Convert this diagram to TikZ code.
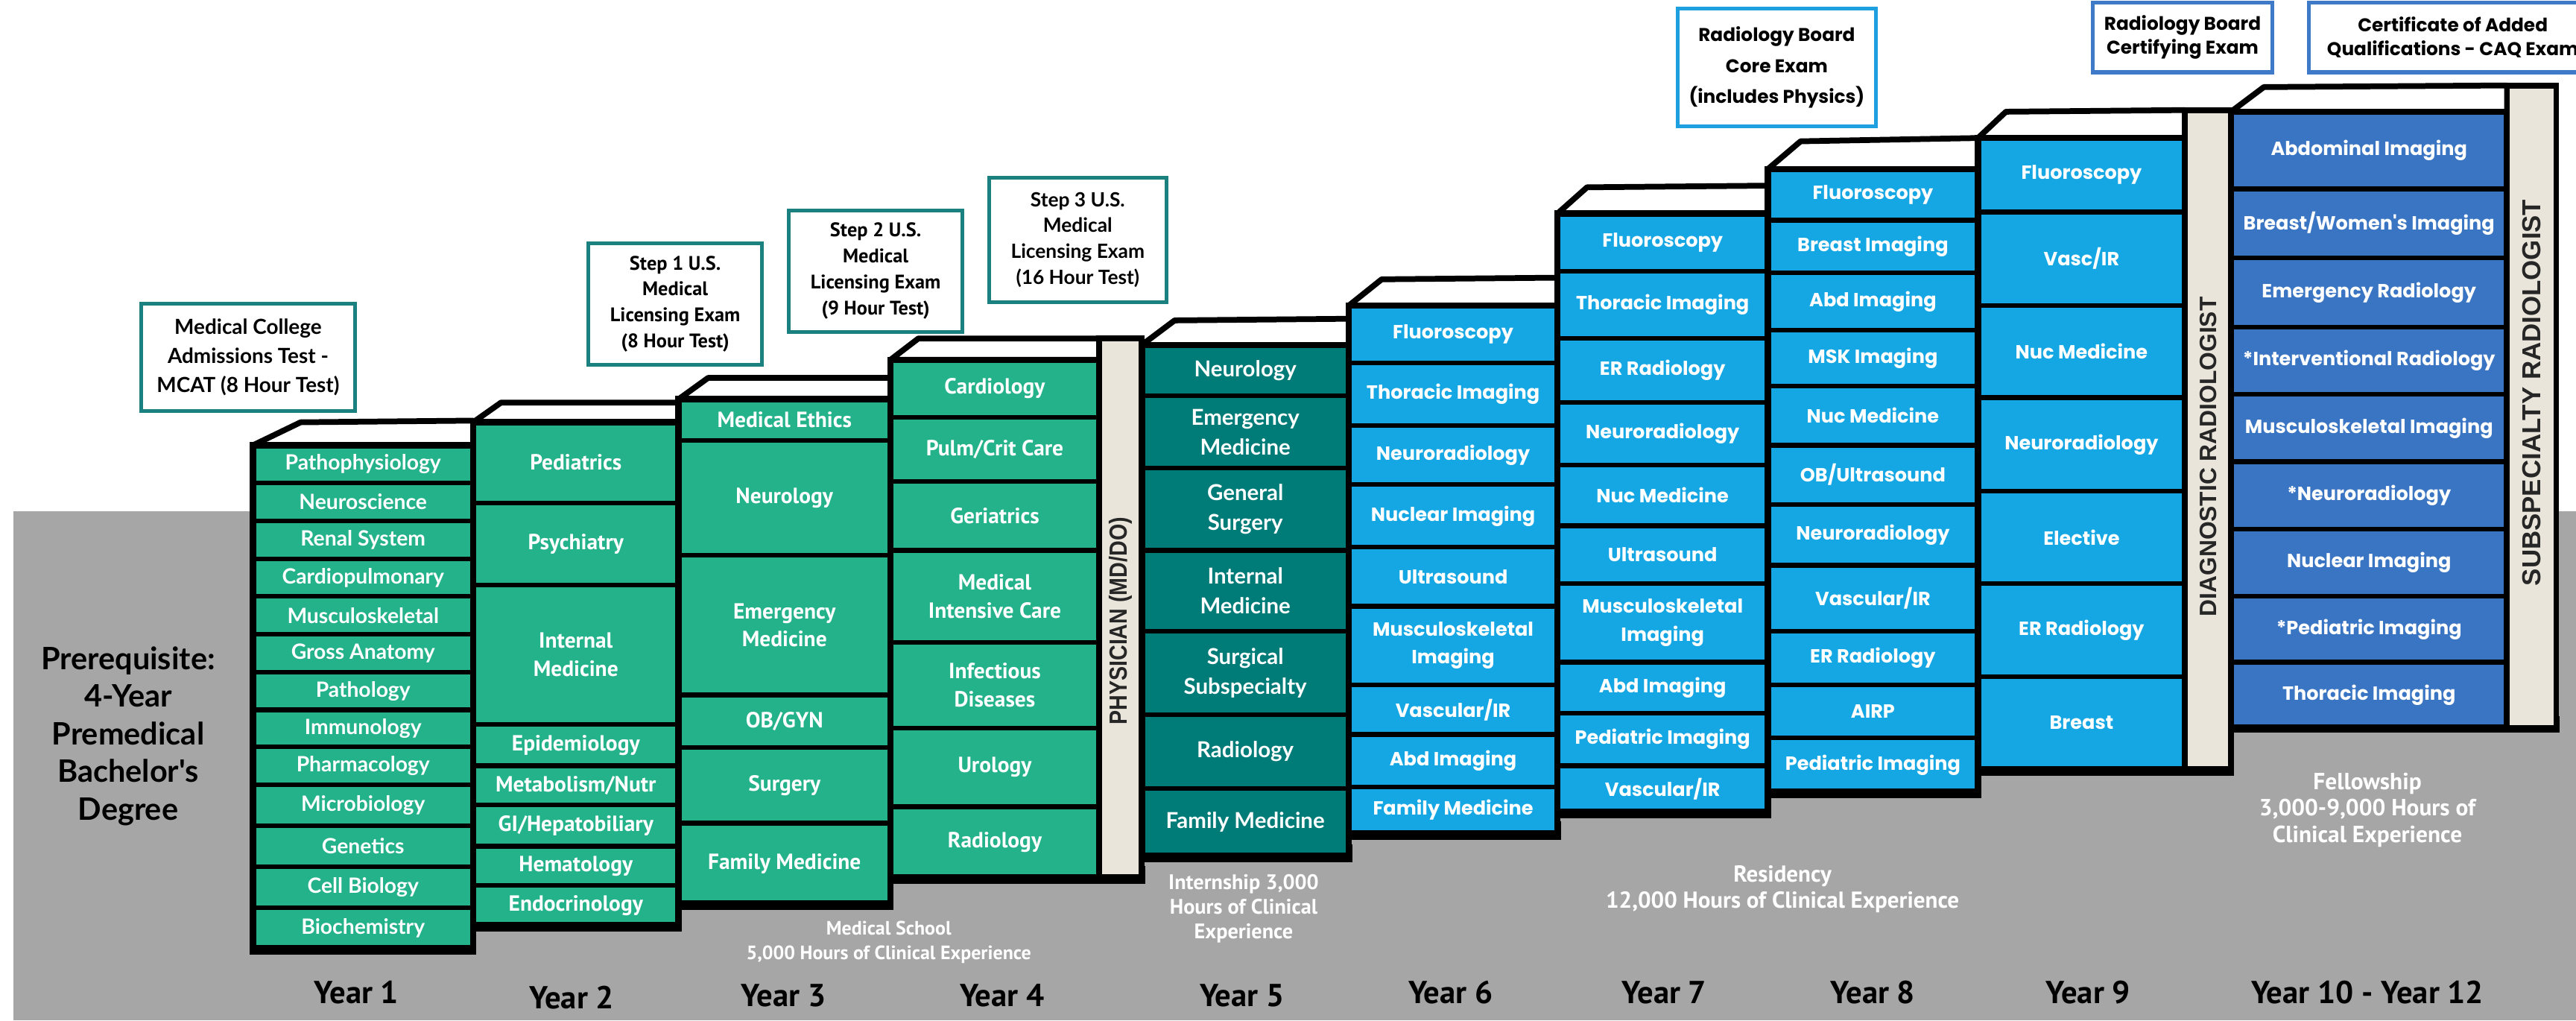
\documentclass[tikz,border=0pt]{standalone}
\usepackage{fontspec}
\usepackage{graphicx}
\setmainfont{Lato}
\newfontfamily\latofont{Lato}
\newfontfamily\ptfont{PT Sans}
\newfontfamily\popfont{Poppins}
\newfontfamily\arialfont{Liberation Sans}

\definecolor{medgreen}{RGB}{36,178,139}
\definecolor{internteal}{RGB}{0,124,120}
\definecolor{resblue}{RGB}{21,167,228}
\definecolor{fellowblue}{RGB}{58,117,196}
\definecolor{barbeige}{RGB}{233,229,218}
\definecolor{groundgray}{RGB}{166,166,166}
\definecolor{examteal}{RGB}{26,128,128}
\definecolor{examblue}{RGB}{30,160,224}
\definecolor{examdeep}{RGB}{62,122,200}

\tikzset{
  coltop/.style={draw=black, fill=white, line width=2pt, line join=round},
  boxcell/.style={draw=black, line width=1.6pt},
  greencell/.style={boxcell, fill=medgreen},
  tealcell/.style={boxcell, fill=internteal},
  bluecell/.style={boxcell, fill=resblue},
  deepcell/.style={boxcell, fill=fellowblue},
  colframe/.style={draw=black, line width=2.2pt},
  colshadow/.style={fill=black},
  sidebar/.style={draw=black, line width=2pt, fill=barbeige},
  bartext/.style={rotate=90, inner sep=0pt, text=black!85, font=\arialfont\bfseries\fontsize{8.6}{10}\selectfont},
  celltxt/.style={text=white, align=center, inner sep=0pt},
  txtone/.style={celltxt, font=\latofont\bfseries\fontsize{7.3}{9.5}\selectfont},
  txtcond/.style={celltxt, font=\ptfont\bfseries\fontsize{7.6}{9.7}\selectfont},
  txtint/.style={celltxt, font=\latofont\bfseries\fontsize{7.6}{10.2}\selectfont},
  txtgeo/.style={celltxt, font=\popfont\bfseries\fontsize{6.6}{9.6}\selectfont},
  exam/.style={draw=examteal, line width=1.3pt, fill=white, align=center, inner sep=0pt},
  examblue/.style={exam, draw=examblue},
  examdeep/.style={exam, draw=examdeep},
  yearlbl/.style={inner sep=0pt, font=\ptfont\bfseries\fontsize{11}{12}\selectfont},
  hours/.style={text=white, align=center, inner sep=0pt, font=\ptfont\bfseries\fontsize{6.7}{8.6}\selectfont}
}

\begin{document}
\begin{tikzpicture}[x=0.02cm, y=-0.02cm]
	\useasboundingbox (0,0) rectangle (1568,621);
	\clip (0,0) rectangle (1568,621);
	\fill[groundgray] (8,311) rectangle (1568,621);

	% prerequisite
	\node[align=center, inner sep=0pt, font=\latofont\bfseries\fontsize{10.7}{13}\selectfont] (prereq) at (78,448) {Prerequisite:\\4-Year\\Premedical\\Bachelor's\\Degree};

	% year 1
	\fill[colshadow] (152,570) rectangle (290,581);
	\draw[coltop] (154,271) -- (183,257) -- (288,256) -- (288,271) -- cycle;
	\foreach \ya/\yb/\txt [count=\i] in {271/294/{Pathophysiology}, 294/317/{Neuroscience}, 317/340/{Renal System},
		340/363/{Cardiopulmonary}, 363/386/{Musculoskeletal}, 386/409/{Gross Anatomy}, 409/432/{Pathology},
		432/454.5/{Immunology}, 454.5/477.5/{Pharmacology}, 477.5/502.5/{Microbiology}, 502.5/527.5/{Genetics},
		527.5/552.5/{Cell Biology}, 552.5/577/{Biochemistry}}
	{
		\draw[greencell] (154,\ya) rectangle (288,\yb);
		\node[txtone] (yA\i) at (221,{(\ya+\yb)/2}) {\txt};
	}
	\draw[colframe] (154,271) rectangle (288,577);

	% year 2
	\fill[colshadow] (286,556) rectangle (415,567);
	\draw[coltop] (288,257) -- (305,245) -- (413,245) -- (413,257) -- cycle;
	\foreach \ya/\yb/\txt [count=\i] in {257/306/{Pediatrics}, 306/356/{Psychiatry}, 356/441/{Internal\\Medicine},
		441/466/{Epidemiology}, 466/490/{Metabolism/Nutr}, 490/515/{GI/Hepatobiliary}, 515/539/{Hematology},
		539/563/{Endocrinology}}
	{
		\draw[greencell] (288,\ya) rectangle (413,\yb);
		\node[txtcond] (yB\i) at (350.5,{(\ya+\yb)/2}) {\txt};
	}
	\draw[colframe] (288,257) rectangle (413,563);

	% year 3
	\fill[colshadow] (411,543) rectangle (544,554);
	\draw[coltop] (413,243) -- (431,230) -- (542,230) -- (542,243) -- cycle;
	\foreach \ya/\yb/\txt [count=\i] in {243/268/{Medical Ethics}, 268/338/{Neurology}, 338/423/{Emergency\\Medicine},
		423/455/{OB/GYN}, 455/501/{Surgery}, 501/550/{Family Medicine}}
	{
		\draw[greencell] (413,\ya) rectangle (542,\yb);
		\node[txtcond] (yC\i) at (477.5,{(\ya+\yb)/2}) {\txt};
	}
	\draw[colframe] (413,243) rectangle (542,550);

	% year 4 + physician
	\fill[colshadow] (540,527) rectangle (697,538);
	\draw[coltop] (542,219) -- (559,206) -- (669,206) -- (669,219) -- cycle;
	\foreach \ya/\yb/\txt [count=\i] in {219/254/{Cardiology}, 254/293/{Pulm/Crit Care}, 293/335/{Geriatrics},
		335/391/{Medical\\Intensive Care}, 391/443/{Infectious\\Diseases}, 443/491/{Urology}, 491/534/{Radiology}}
	{
		\draw[greencell] (542,\ya) rectangle (669,\yb);
		\node[txtcond] (yD\i) at (605.5,{(\ya+\yb)/2}) {\txt};
	}
	\draw[colframe] (542,219) rectangle (669,534);
	\draw[sidebar] (669,206) rectangle (695,534);
	\node[bartext] (physician) at (682,378) {\scalebox{0.86}[1]{PHYSICIAN (MD/DO)}};

	% year 5
	\fill[colshadow] (693,514) rectangle (823,525);
	\draw[coltop] (695,210) -- (715,195) -- (821,194) -- (821,210) -- cycle;
	\foreach \ya/\yb/\txt [count=\i] in {210/241/{Neurology}, 241/285/{Emergency\\Medicine}, 285/335/{General\\Surgery},
		335/384/{Internal\\Medicine}, 384/435/{Surgical\\Subspecialty}, 435/480/{Radiology}, 480/521/{Family Medicine}}
	{
		\draw[tealcell] (695,\ya) rectangle (821,\yb);
		\node[txtint] (yE\i) at (758,{(\ya+\yb)/2}) {\txt};
	}
	\draw[colframe] (695,210) rectangle (821,521);

	% year 6
	\fill[colshadow] (819,500) rectangle (950,511);
	\draw[coltop] (821,186) -- (841,170) -- (948,169) -- (948,186) -- cycle;
	\foreach \ya/\yb/\txt [count=\i] in {186/221/{Fluoroscopy}, 221/259/{Thoracic Imaging}, 259/295/{Neuroradiology},
		295/333/{Nuclear Imaging}, 333/369/{Ultrasound}, 369/417/{Musculoskeletal\\Imaging}, 417/447/{Vascular/IR},
		447/479/{Abd Imaging}, 479/507/{Family Medicine}}
	{
		\draw[bluecell] (821,\ya) rectangle (948,\yb);
		\node[txtgeo] (yF\i) at (884.5,{(\ya+\yb)/2}) {\txt};
	}
	\draw[colframe] (821,186) rectangle (948,507);

	% year 7
	\fill[colshadow] (946,487) rectangle (1078,498);
	\draw[coltop] (948,130) -- (966,114) -- (1076,113) -- (1076,130) -- cycle;
	\foreach \ya/\yb/\txt [count=\i] in {130/165/{Fluoroscopy}, 165/206/{Thoracic Imaging}, 206/245/{ER Radiology},
		245/283/{Neuroradiology}, 283/320/{Nuc Medicine}, 320/355/{Ultrasound}, 355/403/{Musculoskeletal\\Imaging},
		403/434/{Abd Imaging}, 434/466/{Pediatric Imaging}, 466/494/{Vascular/IR}}
	{
		\draw[bluecell] (948,\ya) rectangle (1076,\yb);
		\node[txtgeo] (yG\i) at (1012,{(\ya+\yb)/2}) {\txt};
	}
	\draw[colframe] (948,130) rectangle (1076,494);

	% year 8
	\fill[colshadow] (1074,475) rectangle (1206,486);
	\draw[coltop] (1076,103) -- (1096,86) -- (1204,84) -- (1204,103) -- cycle;
	\foreach \ya/\yb/\txt [count=\i] in {103/134/{Fluoroscopy}, 134/166/{Breast Imaging}, 166/201/{Abd Imaging},
		201/235/{MSK Imaging}, 235/271/{Nuc Medicine}, 271/307/{OB/Ultrasound}, 307/344/{Neuroradiology},
		344/384/{Vascular/IR}, 384/417/{ER Radiology}, 417/449/{AIRP}, 449/482/{Pediatric Imaging}}
	{
		\draw[bluecell] (1076,\ya) rectangle (1204,\yb);
		\node[txtgeo] (yH\i) at (1140,{(\ya+\yb)/2}) {\txt};
	}
	\draw[colframe] (1076,103) rectangle (1204,482);

	% year 9 + diagnostic
	\fill[colshadow] (1202,461) rectangle (1360,472);
	\draw[coltop] (1204,84) -- (1221,68) -- (1330,67) -- (1330,84) -- cycle;
	\foreach \ya/\yb/\txt [count=\i] in {84/129/{Fluoroscopy}, 129/186/{Vasc/IR}, 186/242/{Nuc Medicine},
		242/299/{Neuroradiology}, 299/355/{Elective}, 355/412/{ER Radiology}, 412/468/{Breast}}
	{
		\draw[bluecell] (1204,\ya) rectangle (1330,\yb);
		\node[txtgeo] (yI\i) at (1267,{(\ya+\yb)/2}) {\txt};
	}
	\draw[colframe] (1204,84) rectangle (1330,468);
	\draw[sidebar] (1330,67) rectangle (1358,468);
	\node[bartext, font=\arialfont\bfseries\fontsize{8.2}{10}\selectfont] (diagnostic) at (1344,278) {DIAGNOSTIC RADIOLOGIST};

	% year 10-12 + subspecialty
	\fill[colshadow] (1356,436) rectangle (1558,446);
	\draw[coltop] (1358,68) -- (1378,53) -- (1526,52) -- (1526,68) -- cycle;
	\foreach \ya/\yb/\txt [count=\i] in {68/115/{Abdominal Imaging}, 115/157/{Breast/Women's Imaging},
		157/199/{Emergency Radiology}, 199/240/{*Interventional Radiology}, 240/281/{Musculoskeletal Imaging},
		281/322/{*Neuroradiology}, 322/363/{Nuclear Imaging}, 363/403/{*Pediatric Imaging}, 403/443/{Thoracic Imaging}}
	{
		\draw[deepcell] (1358,\ya) rectangle (1526,\yb);
		\node[txtgeo] (yJ\i) at (1442,{(\ya+\yb)/2}) {\txt};
	}
	\draw[colframe] (1358,68) rectangle (1526,443);
	\draw[sidebar] (1526,52) rectangle (1556,443);
	\node[bartext, font=\arialfont\bfseries\fontsize{9}{10}\selectfont] (subspecialty) at (1541,239) {SUBSPECIALTY RADIOLOGIST};

	% exams
	\node[exam, minimum width=2.6cm, minimum height=1.3cm, font=\latofont\bfseries\fontsize{7.2}{10}\selectfont] (mcat) at (151,217.5) {Medical College\\Admissions Test -\\MCAT (8 Hour Test)};
	\node[exam, minimum width=2.12cm, minimum height=1.48cm, font=\ptfont\bfseries\fontsize{6.8}{9}\selectfont] (stepone) at (411,185) {Step 1 U.S.\\Medical\\Licensing Exam\\(8 Hour Test)};
	\node[exam, minimum width=2.12cm, minimum height=1.48cm, font=\ptfont\bfseries\fontsize{6.8}{9}\selectfont] (steptwo) at (533,165) {Step 2 U.S.\\Medical\\Licensing Exam\\(9 Hour Test)};
	\node[exam, minimum width=2.16cm, minimum height=1.52cm, font=\latofont\bfseries\fontsize{6.8}{9}\selectfont] (stepthree) at (656,146) {Step 3 U.S.\\Medical\\Licensing Exam\\(16 Hour Test)};
	\node[examblue, minimum width=2.42cm, minimum height=1.44cm, font=\popfont\bfseries\fontsize{6.4}{10.8}\selectfont] (corexam) at (1081.5,41) {Radiology Board\\Core Exam\\(includes Physics)};
	\node[examdeep, minimum width=2.18cm, minimum height=0.85cm, font=\popfont\bfseries\fontsize{6.4}{8.4}\selectfont] (certexam) at (1328.5,22.75) {Radiology Board\\Certifying Exam};
	\node[examdeep, minimum width=3.5cm, minimum height=0.85cm, font=\popfont\bfseries\fontsize{6.4}{8.4}\selectfont] (caqexam) at (1493,22.75) {Certificate of Added\\Qualifications - CAQ Exam};

	% hours
	\node[hours] (medschool) at (541,573.5) {Medical School\\5,000 Hours of Clinical Experience};
	\node[hours, font=\ptfont\bfseries\fontsize{7.3}{8.6}\selectfont] (internship) at (757,553) {Internship 3,000\\Hours of Clinical\\Experience};
	\node[hours, font=\ptfont\bfseries\fontsize{8}{9.1}\selectfont] (residency) at (1085,541) {Residency\\12,000 Hours of Clinical Experience};
	\node[hours, font=\ptfont\bfseries\fontsize{8.1}{9.1}\selectfont] (fellowship) at (1441,493) {Fellowship\\3,000-9,000 Hours of\\Clinical Experience};

	% years
	\foreach \xx/\yy/\txt [count=\i] in {217/604/{Year 1}, 348/607/{Year 2}, 477/606/{Year 3}, 610/606/{Year 4},
		756/606/{Year 5}, 883/604/{Year 6}, 1013/604/{Year 7}, 1140/604/{Year 8}, 1271/604/{Year 9}, 1441/604/{Year 10 - Year 12}}
		\node[yearlbl] (year\i) at (\xx,\yy) {\txt};
\end{tikzpicture}
\end{document}
